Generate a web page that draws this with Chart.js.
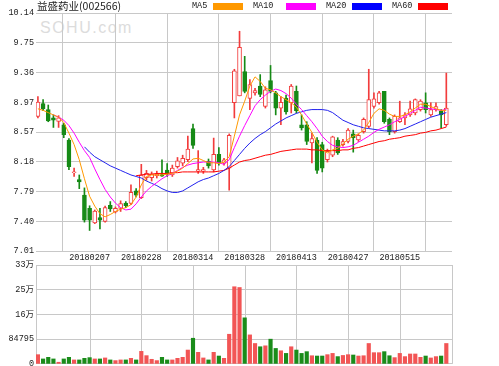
<!DOCTYPE html>
<html><head><meta charset="utf-8">
<script src="https://cdn.jsdelivr.net/npm/chart.js@4.4.0/dist/chart.umd.min.js"></script>
<style>
html,body{margin:0;padding:0;background:#fff;width:499px;height:366px;overflow:hidden;}
#wrap{position:relative;width:499px;height:366px;overflow:hidden;}
canvas{position:absolute;left:0;}
#c1{top:0;}
#c2{top:255px;}
.txt{position:absolute;white-space:nowrap;color:#222;}
.box{position:absolute;height:7px;width:30px;top:3px;}
</style></head>
<body><div id="wrap">
<div class="txt" id="wm" style="left:40px;top:19px;font:16px 'Liberation Sans',Arial,sans-serif;letter-spacing:1.5px;color:#dcdcdc;">SOHU.com</div>
<canvas id="c1" width="499" height="263"></canvas>
<canvas id="c2" width="499" height="116"></canvas>
<div class="txt" style="left:37px;top:-1px;font:10.5px 'Noto Sans CJK SC',sans-serif;line-height:14px;">益盛药业(002566)</div>
<div class="txt" style="left:192px;top:1px;font:8.5px 'Liberation Mono','DejaVu Sans Mono',monospace;line-height:10px;">MA5</div>
<div class="box" style="left:213px;background:#ff9900;"></div>
<div class="txt" style="left:253px;top:1px;font:8.5px 'Liberation Mono','DejaVu Sans Mono',monospace;line-height:10px;">MA10</div>
<div class="box" style="left:286px;background:#ff00ff;"></div>
<div class="txt" style="left:326px;top:1px;font:8.5px 'Liberation Mono','DejaVu Sans Mono',monospace;line-height:10px;">MA20</div>
<div class="box" style="left:352px;background:#0000ff;"></div>
<div class="txt" style="left:392px;top:1px;font:8.5px 'Liberation Mono','DejaVu Sans Mono',monospace;line-height:10px;">MA60</div>
<div class="box" style="left:418px;background:#ff0000;"></div>
</div>
<script>
const dates = ['20180124','20180125','20180126','20180129','20180130','20180131','20180201','20180202','20180205','20180206',
'20180207','20180208','20180209','20180212','20180213','20180214','20180222','20180223','20180226','20180227',
'20180228','20180301','20180302','20180305','20180306','20180307','20180308','20180309','20180312','20180313',
'20180314','20180315','20180316','20180319','20180320','20180321','20180322','20180323','20180326','20180327',
'20180328','20180329','20180330','20180402','20180403','20180404','20180409','20180410','20180411','20180412',
'20180413','20180416','20180417','20180418','20180419','20180420','20180423','20180424','20180425','20180426',
'20180427','20180502','20180503','20180504','20180507','20180508','20180509','20180510','20180511','20180514',
'20180515','20180516','20180517','20180518','20180521','20180522','20180523','20180524','20180525','20180528'];

const opens = [8.78,8.95,8.87,8.76,8.715,8.67,8.47,8.04,7.95,7.745,
7.57,7.38,7.45,7.40,7.61,7.525,7.57,7.64,7.635,7.80,
7.71,7.975,7.975,8.00,8.015,8.075,8.01,8.12,8.165,8.21,
8.62,8.06,8.06,8.19,8.075,8.28,8.165,8.10,8.96,9.05,
9.37,9.015,9.09,9.18,8.91,9.25,9.09,8.89,9.02,8.96,
9.11,8.67,8.67,8.43,8.47,8.41,8.21,8.27,8.47,8.41,
8.45,8.55,8.47,8.58,8.65,8.91,8.96,9.11,8.74,8.58,
8.71,8.76,8.80,8.825,8.87,8.96,8.80,8.87,8.85,8.67];
const highs = [9.04,9.00,8.93,8.80,8.79,8.69,8.49,8.10,8.01,7.84,
7.605,7.55,7.57,7.60,7.66,7.59,7.67,7.66,7.88,7.83,
8.15,8.07,8.05,8.06,8.21,8.16,8.14,8.24,8.27,8.52,
8.68,8.33,8.11,8.22,8.495,8.37,8.23,8.55,9.40,9.90,
9.57,9.265,9.15,9.33,9.17,9.45,9.11,9.04,9.06,9.20,
9.18,8.80,8.71,8.56,8.50,8.44,8.35,8.52,8.50,8.48,
8.62,8.60,8.55,8.76,9.40,9.09,9.11,9.11,8.76,8.80,
8.98,8.83,8.98,9.01,9.00,9.09,8.96,8.96,8.87,9.35];
const lows = [8.76,8.855,8.71,8.635,8.635,8.50,8.08,7.99,7.83,7.39,
7.28,7.37,7.30,7.39,7.53,7.51,7.53,7.58,7.62,7.72,
7.70,7.94,7.93,7.97,7.99,7.99,7.99,8.10,8.13,8.185,
8.36,8.03,8.03,8.10,8.05,8.14,8.14,7.81,8.76,9.05,
9.09,8.87,9.06,9.04,8.89,9.09,8.80,8.67,8.81,8.825,
8.825,8.60,8.41,8.17,8.03,8.05,8.18,8.25,8.28,8.39,
8.43,8.31,8.45,8.56,8.63,8.89,8.94,8.69,8.54,8.56,
8.70,8.67,8.78,8.80,8.85,8.825,8.78,8.85,8.63,8.65];
const closes = [8.97,8.88,8.72,8.73,8.76,8.54,8.12,8.05,7.92,7.415,
7.415,7.535,7.415,7.58,7.565,7.57,7.635,7.605,7.78,7.745,
8.01,8.03,8.02,8.02,7.995,8.02,8.10,8.195,8.23,8.35,
8.40,8.08,8.08,8.13,8.28,8.165,8.21,8.53,9.38,9.69,
9.11,9.20,9.12,9.07,9.13,9.11,8.89,8.965,8.84,9.18,
8.855,8.63,8.45,8.49,8.07,8.10,8.32,8.51,8.30,8.45,
8.60,8.50,8.53,8.74,9.00,9.01,9.09,8.71,8.58,8.78,
8.76,8.80,8.88,9.00,8.98,8.87,8.87,8.91,8.80,8.89];
const volumes = [31700,17000,22600,17000,5700,17000,22600,13600,13600,19200,
21500,17000,17000,20400,13600,11300,13600,13600,19200,13600,
43000,28300,15800,11300,22600,13600,13600,19200,22600,47500,
88000,39600,20400,13600,39600,27000,19200,101700,264600,262000,
158000,99500,70000,58800,62000,84800,53000,45000,36000,58800,
47500,36000,42000,28000,27000,27000,31700,36000,25000,29000,
31700,30500,27000,28000,70000,38500,38500,42000,28000,21500,
36000,25000,34000,34000,22600,27000,20400,25000,27000,70000];

const ma5 = [8.88,8.86,8.83,8.80,8.77,8.70,8.56,8.41,8.21,7.96,
7.73,7.60,7.50,7.46,7.49,7.53,7.56,7.58,7.62,7.72,
7.88,7.99,8.01,8.01,8.01,8.02,8.03,8.06,8.10,8.16,
8.22,8.23,8.20,8.17,8.17,8.16,8.18,8.25,8.52,8.80,
8.98,9.18,9.30,9.24,9.15,9.13,9.09,9.04,9.00,8.96,
8.90,8.80,8.68,8.57,8.44,8.34,8.30,8.34,8.36,8.42,
8.48,8.52,8.55,8.60,8.70,8.82,8.88,8.86,8.81,8.78,
8.78,8.80,8.84,8.89,8.94,8.94,8.91,8.88,8.86,8.86];
const ma10 = [null,null,null,8.80,8.77,8.73,8.66,8.56,8.44,8.33,
8.24,8.09,7.95,7.82,7.72,7.64,7.58,7.55,7.56,7.63,
7.72,7.80,7.86,7.91,7.96,8.00,8.03,8.07,8.11,8.14,
8.16,8.17,8.18,8.18,8.18,8.17,8.15,8.21,8.37,8.52,
8.66,8.79,8.92,9.00,9.06,9.11,9.14,9.12,9.08,9.02,
8.94,8.87,8.79,8.71,8.62,8.52,8.45,8.40,8.38,8.37,
8.38,8.40,8.44,8.48,8.52,8.57,8.61,8.64,8.67,8.71,
8.74,8.78,8.82,8.86,8.90,8.89,8.88,8.87,8.86,8.87];
const ma20 = [null,null,null,null,null,null,null,null,null,8.38,
8.31,8.25,8.21,8.17,8.13,8.10,8.07,8.04,8.01,7.99,
7.97,7.93,7.90,7.87,7.83,7.80,7.78,7.78,7.80,7.84,
7.88,7.92,7.95,7.97,8.00,8.03,8.07,8.12,8.20,8.28,
8.36,8.43,8.49,8.54,8.58,8.63,8.68,8.72,8.76,8.79,
8.82,8.84,8.86,8.87,8.87,8.87,8.86,8.83,8.78,8.73,
8.70,8.67,8.65,8.63,8.62,8.61,8.60,8.59,8.59,8.59,
8.60,8.62,8.65,8.68,8.71,8.74,8.77,8.79,8.81,8.83];
const ma60 = [null,null,null,null,null,null,null,null,null,null,
null,null,null,null,null,null,null,null,null,8.00,
8.01,8.02,8.02,8.03,8.03,8.03,8.04,8.04,8.05,8.05,
8.05,8.05,8.05,8.05,8.05,8.06,8.07,8.10,8.14,8.18,
8.20,8.21,8.23,8.25,8.27,8.28,8.30,8.32,8.33,8.34,
8.35,8.35,8.35,8.34,8.34,8.33,8.33,8.33,8.33,8.34,
8.34,8.36,8.37,8.39,8.41,8.43,8.45,8.46,8.48,8.49,
8.50,8.52,8.53,8.54,8.56,8.57,8.59,8.60,8.62,8.64];

const priceTickLabels = ['7.01','7.40','7.79','8.18','8.57','8.97','9.36','9.75','10.14'];
const volTickLabels = ['0','84795','16万','25万','33万'];
const dateTickIdx = [10,20,30,40,50,60,70];
const priceMin = 7.01, priceMax = 10.14;
const volMax = 339180;
const xMin = -0.37, xMax = 80.1;

const RED = '#f23c3c', GREEN = '#168a16', VRED = '#f25555', VGREEN = '#1a8c1a', GRID = '#c8c8c8';
const up = closes.map((c,i)=> c >= opens[i]);
const axisFont = {family:"'Liberation Mono','DejaVu Sans Mono','Noto Sans CJK SC',monospace", size:8.5};

function xTicks(scale){
  scale.ticks = [xMin].concat(dateTickIdx, [xMax]).map(v=>({value:v}));
}
const lineDs = (label, arr, color) => ({
  type:'line', label, data: arr.map((v,i)=>({x:i, y:v})), borderColor: color,
  borderWidth:1, pointRadius:0, tension:0, spanGaps:false, order:0
});

// vertical grid lines for the volume pane, placed through the x scale
const volGridPlugin = {
  id:'volGrid',
  beforeDatasetsDraw(chart){
    const {ctx, chartArea:a, scales:{x}} = chart;
    ctx.save();
    ctx.strokeStyle = GRID; ctx.lineWidth = 1;
    [xMin].concat(dateTickIdx, [xMax]).forEach(v=>{
      let px = Math.round(x.getPixelForValue(v));
      if (px >= Math.round(a.right)) px = Math.round(a.right);
      px += 0.5;
      ctx.beginPath(); ctx.moveTo(px, a.top); ctx.lineTo(px, a.bottom); ctx.stroke();
    });
    ctx.restore();
  }
};

new Chart(document.getElementById('c1'), {
  data: {
    datasets: [
      lineDs('MA5', ma5, '#ff9900'),
      lineDs('MA10', ma10, '#ff00ff'),
      lineDs('MA20', ma20, '#2222ee'),
      lineDs('MA60', ma60, '#ff0000'),
      {type:'bar', label:'body', data: dates.map((d,i)=>({x:i, y:[opens[i], closes[i]]})),
       backgroundColor: up.map(u=> u ? '#ffffff' : GREEN),
       borderColor: up.map(u=> u ? RED : GREEN), borderWidth:1, borderSkipped:false,
       barThickness:4, grouped:false, order:1},
      {type:'bar', label:'wick', data: dates.map((d,i)=>({x:i, y:[lows[i], highs[i]]})),
       backgroundColor: up.map(u=> u ? RED : GREEN), borderWidth:0,
       barThickness:1, grouped:false, order:2}
    ]
  },
  options: {
    responsive:false, animation:false, devicePixelRatio:1,
    layout:{padding:{top:13, right:47, left:0, bottom:0}},
    plugins:{legend:{display:false}, tooltip:{enabled:false}},
    scales:{
      x:{type:'linear', min:xMin, max:xMax, offset:false,
         afterBuildTicks: xTicks,
         afterFit: s => { s.height = 12; },
         grid:{color:GRID, lineWidth:1, drawTicks:false},
         border:{display:false},
         ticks:{autoSkip:false, maxRotation:0, padding:2, color:'#222', font:axisFont,
                callback:(v)=> dateTickIdx.includes(v) ? dates[v] : ''}},
      y:{min:priceMin, max:priceMax,
         afterBuildTicks: s => { s.ticks = priceTickLabels.map((t,k)=>({value: priceMin + k*(priceMax-priceMin)/8})); },
         afterFit: s => { s.width = 36; },
         grid:{color:GRID, lineWidth:1, drawTicks:false},
         border:{display:false},
         ticks:{padding:2, color:'#222', font:axisFont,
                callback:(v, idx)=> priceTickLabels[idx]}}
    }
  }
});

new Chart(document.getElementById('c2'), {
  data: {
    datasets: [
      {type:'bar', label:'volume', data: volumes.map((v,i)=>({x:i, y:v})),
       backgroundColor: up.map(u=> u ? VRED : VGREEN), borderWidth:0,
       barThickness:3.5, grouped:false}
    ]
  },
  plugins:[volGridPlugin],
  options: {
    responsive:false, animation:false, devicePixelRatio:1,
    layout:{padding:{top:10, right:47, left:0, bottom:6}},
    plugins:{legend:{display:false}, tooltip:{enabled:false}},
    scales:{
      x:{type:'linear', min:xMin, max:xMax, offset:false,
         afterBuildTicks: xTicks,
         afterFit: s => { s.height = 0; },
         grid:{display:false},
         border:{display:false},
         ticks:{display:false}},
      y:{min:0, max:volMax,
         afterBuildTicks: s => { s.ticks = volTickLabels.map((t,k)=>({value: k*volMax/4})); },
         afterFit: s => { s.width = 36; },
         grid:{color:GRID, lineWidth:1, drawTicks:false},
         border:{display:false},
         ticks:{padding:2, color:'#222', font:axisFont,
                callback:(v, idx)=> volTickLabels[idx]}}
    }
  }
});
</script>
</body></html>
